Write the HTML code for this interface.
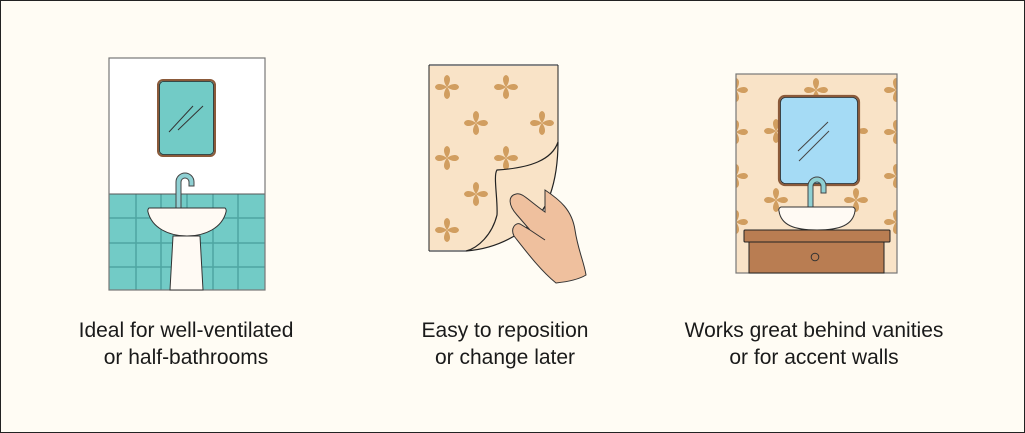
<!DOCTYPE html>
<html><head><meta charset="utf-8"><style>
html,body{margin:0;padding:0;background:#fffcf4}
svg{display:block}
text{font-family:"Liberation Sans",sans-serif;font-size:21px;fill:#1a1a1a}
</style></head><body>
<svg width="1025" height="433" viewBox="0 0 1025 433" xmlns="http://www.w3.org/2000/svg">
<defs>
<g id="fl" fill="#d19e60">
<path d="M0 0 C-4 -5 -4 -11 0 -12 C4 -11 4 -5 0 0 Z"/>
<path d="M0 0 C-4 5 -4 11 0 12 C4 11 4 5 0 0 Z"/>
<path d="M0 0 C-5 -4 -11 -4 -12 0 C-11 4 -5 4 0 0 Z"/>
<path d="M0 0 C5 -4 11 -4 12 0 C11 4 5 4 0 0 Z"/>
</g>
<clipPath id="c3"><rect x="736" y="74" width="161" height="199"/></clipPath>
</defs>
<rect x="0.5" y="0.5" width="1024" height="432" fill="#fffcf4" stroke="#222"/>

<!-- Panel 1 -->
<rect x="109" y="58" width="156" height="232" fill="#fff"/>
<rect x="109" y="194" width="156" height="96" fill="#72cbc6"/>
<g stroke="#4ea5a2" stroke-width="1.5">
<line x1="136" y1="194" x2="136" y2="290"/><line x1="161" y1="194" x2="161" y2="290"/>
<line x1="187" y1="194" x2="187" y2="290"/><line x1="213" y1="194" x2="213" y2="290"/>
<line x1="238" y1="194" x2="238" y2="290"/>
<line x1="109" y1="218" x2="265" y2="218"/><line x1="109" y1="243" x2="265" y2="243"/>
<line x1="109" y1="267" x2="265" y2="267"/>
</g>
<line x1="109" y1="194" x2="265" y2="194" stroke="#555"/>
<rect x="109" y="58" width="156" height="232" fill="none" stroke="#777" stroke-width="1.2"/>
<rect x="158" y="80" width="57" height="76" rx="5" fill="#72cbc6" stroke="#8b5a3a" stroke-width="2"/>
<rect x="159.5" y="81.5" width="54" height="73" rx="4" fill="none" stroke="#222" stroke-width="0.8"/>
<line x1="169" y1="132" x2="193" y2="106" stroke="#333"/><line x1="178" y1="130" x2="203" y2="106" stroke="#333"/>
<path d="M176 208 V182 a9 9 0 0 1 18 0 v4 h-5 v-4 a4 4 0 0 0 -8 0 V208 Z" fill="#8fd0d3" stroke="#444" stroke-width="1"/>
<path d="M173 236 L170 290 H203 L200 236 Z" fill="#fffaf4" stroke="#333"/>
<path d="M149 208 H225 a4 4 0 0 1 1 4 C222 228 205 236 187 236 C169 236 152 228 148 212 a4 4 0 0 1 1 -4 Z" fill="#fffaf4" stroke="#333"/>

<!-- Panel 2 -->
<path d="M429 65 H558 V142 C550 190 520 240 466 251 H429 Z" fill="#f9e3c7"/>
<line x1="429" y1="65" x2="558" y2="65" stroke="#888" stroke-width="2"/>
<line x1="429" y1="251" x2="466" y2="251" stroke="#888" stroke-width="2"/>
<line x1="429" y1="65" x2="429" y2="251" stroke="#222"/>
<line x1="558" y1="65" x2="558" y2="142" stroke="#222"/>
<g>
<use href="#fl" x="447" y="87"/><use href="#fl" x="506" y="87"/>
<use href="#fl" x="476" y="123"/><use href="#fl" x="542" y="123"/>
<use href="#fl" x="447" y="158"/><use href="#fl" x="506" y="158"/>
<use href="#fl" x="476" y="194"/><use href="#fl" x="447" y="230"/>
</g>
<path d="M558 142 C552 160 530 168 497 170 C493 175 498 200 497 215 C492 235 478 248 466 251 C505 248 540 225 550 195 C556 178 558 160 558 142 Z" fill="#f9e3c7" stroke="#222" stroke-width="1.2"/>
<path d="M545 190 C560 200 572 210 575 230 C578 250 584 262 586 275 C578 280 565 282 556 283 C540 270 525 250 514 236 C510 228 516 222 520 224 L530 230 L517 215 C508 205 508 196 516 194 C522 192 528 200 545 212 Z" fill="#efc09e" stroke="#333" stroke-width="1"/>
<path d="M530 230 L545 240" stroke="#333" fill="none"/>

<!-- Panel 3 -->
<rect x="736" y="74" width="161" height="199" fill="#f9e3c7"/>
<g clip-path="url(#c3)">
<use href="#fl" x="736" y="90"/><use href="#fl" x="816" y="90"/><use href="#fl" x="896" y="90"/>
<use href="#fl" x="776" y="131"/><use href="#fl" x="856" y="131"/>
<use href="#fl" x="736" y="132"/><use href="#fl" x="896" y="132"/>
<use href="#fl" x="736" y="176"/><use href="#fl" x="896" y="176"/>
<use href="#fl" x="776" y="200"/><use href="#fl" x="856" y="200"/>
<use href="#fl" x="736" y="222"/><use href="#fl" x="896" y="222"/>
</g>
<rect x="736" y="74" width="161" height="199" fill="none" stroke="#777" stroke-width="1.2"/>
<rect x="779" y="96" width="80" height="89" rx="6" fill="#a5dbf5" stroke="#8b5a3a" stroke-width="2.2"/>
<rect x="780.5" y="97.5" width="77" height="86" rx="5" fill="none" stroke="#222" stroke-width="0.8"/>
<line x1="798" y1="151" x2="828" y2="122" stroke="#444"/><line x1="799" y1="161" x2="829" y2="131" stroke="#444"/>
<path d="M808 207 V186 a9 9 0 0 1 18 0 v7 h-5 v-7 a4 4 0 0 0 -8 0 V207 Z" fill="#8fd0d3" stroke="#444"/>
<path d="M781 207 H852 a3 3 0 0 1 3 4 C853 225 840 230 817 230 C794 230 781 225 779 211 a3 3 0 0 1 2 -4 Z" fill="#fffaf4" stroke="#333"/>
<rect x="744" y="230" width="146" height="12" rx="1" fill="#b97d52" stroke="#222"/>
<rect x="749" y="242" width="135" height="31" fill="#b97d52" stroke="#222"/>
<circle cx="815" cy="257" r="3.8" fill="none" stroke="#333"/>

<!-- Labels -->
<text x="186" y="337" text-anchor="middle">Ideal for well-ventilated</text>
<text x="186" y="364" text-anchor="middle">or half-bathrooms</text>
<text x="505" y="337" text-anchor="middle">Easy to reposition</text>
<text x="505" y="364" text-anchor="middle">or change later</text>
<text x="814" y="337" text-anchor="middle">Works great behind vanities</text>
<text x="814" y="364" text-anchor="middle">or for accent walls</text>
</svg>
</body></html>
